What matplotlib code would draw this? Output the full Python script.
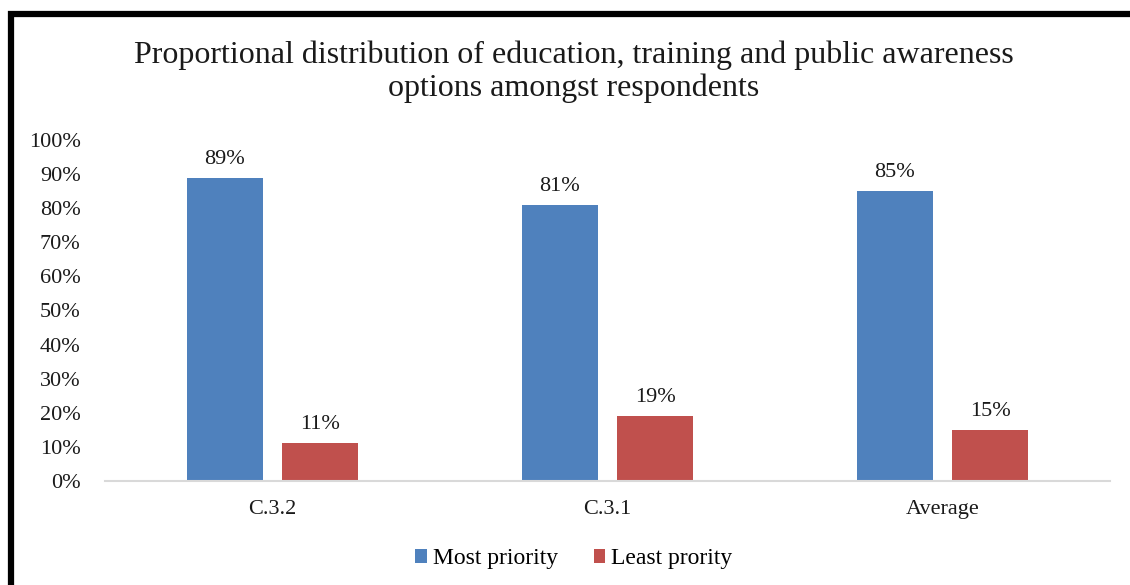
import matplotlib.pyplot as plt
import numpy as np
from matplotlib.patches import Rectangle

plt.rcParams['font.family'] = ['Liberation Serif', 'DejaVu Serif']

# Data
categories = ['C.3.2', 'C.3.1', 'Average']
most_priority = [89, 81, 85]
least_priority = [11, 19, 15]
series_names = ['Most priority', 'Least prority']
colors = ['#4F81BD', '#C0504D']
title_lines = ['Proportional distribution of education, training and public awareness',
               'options amongst respondents']

fig = plt.figure(figsize=(11.3, 5.85), dpi=100)
ax = fig.add_axes([0.0929, 0.1778, 0.8894, 0.5829])

x = np.arange(len(categories))
width = 0.227
offset = 0.1425

bars1 = ax.bar(x - offset, most_priority, width, color=colors[0], label=series_names[0])
bars2 = ax.bar(x + offset, least_priority, width, color=colors[1], label=series_names[1])

# value labels above bars
for bars, vals in [(bars1, most_priority), (bars2, least_priority)]:
    for b, v in zip(bars, vals):
        ax.annotate(f'{v}%', (b.get_x() + b.get_width() / 2, v),
                    xytext=(0, 9), textcoords='offset pixels',
                    ha='center', va='bottom', fontsize=16, color='#1a1a1a')

ax.set_xlim(-0.5, 2.5)
ax.set_ylim(0, 100)
ax.set_yticks(np.arange(0, 101, 10))
ax.set_yticklabels([f'{t}%' for t in range(0, 101, 10)])
ax.set_xticks(x)
ax.set_xticklabels(categories)
ax.tick_params(axis='both', length=0, labelsize=16, labelcolor='#1a1a1a')
ax.tick_params(axis='y', pad=17.5)
ax.tick_params(axis='x', pad=14)

for s in ['top', 'right', 'left']:
    ax.spines[s].set_visible(False)
ax.spines['bottom'].set_color('#d9d9d9')
ax.spines['bottom'].set_linewidth(1.5)

# two-line title, baselines placed separately
for line, base_px in zip(title_lines, [63, 96]):
    fig.text(0.508, 1 - base_px / 585, line, ha='center', va='baseline',
             fontsize=23, color='#1a1a1a')

fig.legend(loc='center', bbox_to_anchor=(0.508, 0.045), ncol=2, frameon=False,
           fontsize=17, handlelength=0.5, handleheight=0.5, handletextpad=0.25,
           columnspacing=1.5)

# black frame, cut at right and bottom edges
fig.patches.append(Rectangle((11 / 1130, -0.2), 1.2, 1.2 - 13.5 / 585, transform=fig.transFigure,
                             fill=False, edgecolor='black', linewidth=4.5, clip_on=False))

fig.savefig('out.png', dpi=100)
